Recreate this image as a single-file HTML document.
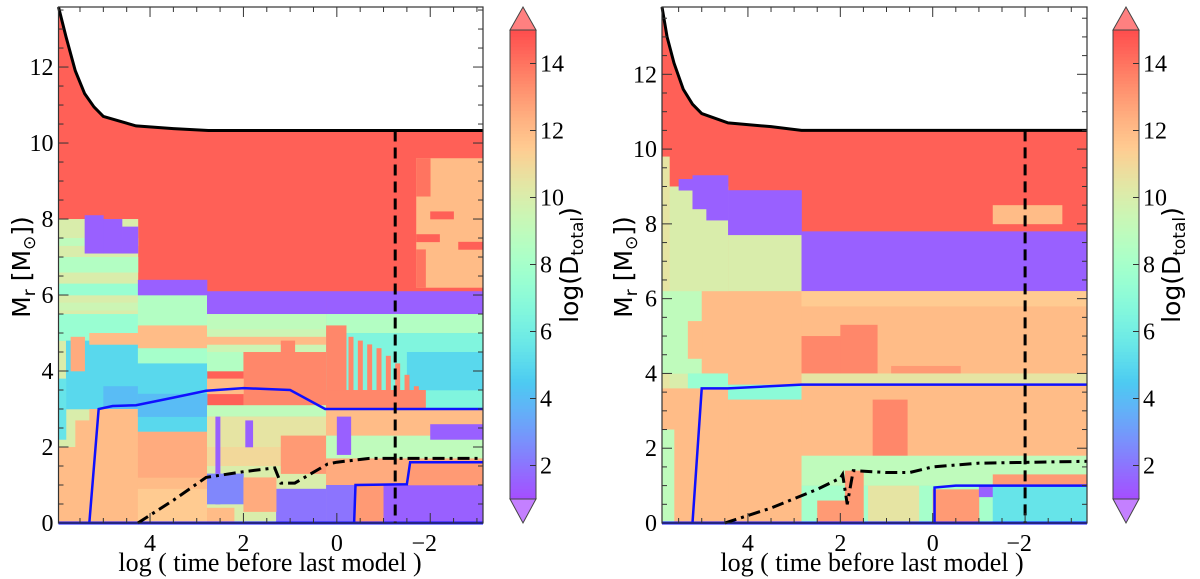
<!DOCTYPE html>
<html><head><meta charset="utf-8"><style>
html,body{margin:0;padding:0;background:#fff;width:1200px;height:579px;overflow:hidden}
svg{display:block}
.tk{font-family:"Liberation Serif",serif;font-size:24px;fill:#000}
.lab{font-family:"DejaVu Sans","Liberation Sans",sans-serif;font-size:25px;fill:#000}
.xl{font-family:"Liberation Serif",serif;font-size:26px;fill:#000}
</style></head><body>
<svg id="fig" width="1200" height="579" viewBox="0 0 1200 579" xmlns="http://www.w3.org/2000/svg">
<defs>
<clipPath id="clipL"><path id="clipLp"/></clipPath>
<clipPath id="clipR"><path id="clipRp"/></clipPath>
</defs>
</svg>
<script>
// ---- data: left panel ----
const envL = [[5.96,13.58],[5.8,12.8],[5.6,11.9],[5.4,11.3],[5.2,10.95],[5.0,10.7],[4.3,10.45],[3.5,10.38],[2.75,10.33],[-3.13,10.33]];
const blueL1 = [[5.3,0],[5.1,3.0],[4.8,3.08],[4.3,3.1],[3.5,3.3],[2.8,3.48],[2.0,3.55],[1.0,3.5],[0.25,3.0],[-3.13,3.0]];
const blueL2 = [[-0.37,0],[-0.4,1.0],[-1.5,1.02],[-1.57,1.6],[-3.13,1.6]];
const dashDotL = [[4.26,0],[3.5,0.6],[2.8,1.2],[2.0,1.35],[1.33,1.45],[1.2,1.05],[0.9,1.05],[0.2,1.55],[0.0,1.6],[-0.7,1.7],[-3.13,1.7]];
const vlineL = -1.25;
const cellsL = [
[5.96,-3.13,0,13.6,14.5],
[5.96,4.26,0,8,10],[5.96,4.26,6.6,7.0,8.5],[5.96,4.26,6.0,6.3,7.5],[5.96,4.26,5.6,5.8,9.5],[5.96,4.26,7.3,7.5,9],
[5.4,5.0,7.1,8.1,1.5],[5.0,4.6,7.1,8.0,1.5],[4.6,4.26,7.1,7.8,1.5],
[5.96,4.26,4.8,5.5,7.5],[5.8,4.26,3.0,4.8,5],[5.96,5.8,2.2,3.8,5.5],[5.7,5.4,4.0,4.9,12.5],[5.3,4.26,4.7,5.0,12],[5.0,4.26,3.0,3.6,4],
[5.96,4.26,0,2.0,12],[5.6,4.26,0,2.7,12],[5.3,4.26,0,3.0,12],
[4.26,2.78,5.0,6.0,8.5],[4.26,2.78,6.0,6.4,1.5],[4.26,2.78,4.6,5.2,12],[4.26,2.78,4.2,4.6,8],[4.26,2.78,2.4,4.2,5],[4.26,2.78,2.8,3.4,4],[4.26,2.78,0,2.4,12],[4.26,2.78,1.2,2.4,12.5],[4.26,2.78,0,0.9,11.5],
[2.78,0.23,5.5,6.1,1.5],[2.78,0.23,5.1,5.5,9],[2.78,0.23,4.5,5.1,9.5],[2.78,0.23,4.7,4.9,12],[2.78,0.23,4.0,4.5,8.5],
[2.0,0.23,3.1,4.5,13.5],[1.2,0.9,4.5,4.8,13.5],[2.78,2.0,3.4,3.8,12],
[2.78,0.23,2.8,3.1,9],[2.78,0.23,2.0,2.8,10.5],[2.78,0.23,1.5,2.0,11],[2.78,0.23,0,1.5,10],
[2.6,2.5,0.5,2.8,1.5],[1.96,1.8,2.0,2.7,1.5],[2.78,2.0,0.5,1.3,2.5],[1.3,0.23,0,0.9,2],[2.0,1.3,0.3,1.2,12.5],[1.2,0.23,1.3,2.3,13],[2.78,2.2,0,0.4,12],
[0.23,-3.13,5.5,6.1,1.5],[0.23,-3.13,5.0,5.5,8.5],[0.23,-3.13,3.0,5.0,6.5],[-1.5,-3.13,3.5,4.5,5],
[0.23,-0.2,3.0,5.2,13.5],[-0.25,-0.35,3.0,4.9,13.5],[-0.45,-0.55,3.0,4.8,13.5],[-0.65,-0.75,3.0,4.7,13.5],[-0.85,-0.95,3.0,4.6,13.5],[-1.05,-1.15,3.0,4.4,13.5],[-1.25,-1.35,3.0,4.2,13.5],[-1.45,-1.55,3.0,3.9,13.5],[-1.65,-1.75,3.0,3.6,13.5],[0.23,-1.9,3.0,3.5,13.5],
[0.23,-3.13,2.3,3.0,12],[0.23,-3.13,1.7,2.3,9],[0.0,-0.3,1.8,2.8,1.5],[-2.0,-3.13,2.2,2.6,1.5],[0.23,-3.13,1.0,1.7,12.5],
[0.23,-0.37,0,1.0,2],[-0.4,-1.0,0,1.0,13],[-1.0,-3.13,0,1.0,1.5],[-1.55,-3.13,1.0,1.6,13],
[-1.7,-3.13,6.2,9.6,12],[-1.7,-2.0,8.6,9.6,14],[-2.0,-2.5,8.0,8.2,14.5],[-1.7,-2.2,7.4,7.6,14.5],[-2.6,-3.13,7.2,7.4,14.5],[-1.7,-1.9,6.2,7.2,14]
];
// ---- data: right panel ----
const envR = [[5.86,13.8],[5.75,13.0],[5.6,12.3],[5.4,11.6],[5.2,11.2],[5.0,10.95],[4.43,10.7],[3.5,10.6],[2.84,10.5],[-3.34,10.5]];
const blueR1 = [[5.2,0],[5.0,3.6],[4.43,3.6],[2.84,3.7],[-3.34,3.7]];
const blueR2 = [[-0.04,0],[-0.04,0.95],[-0.5,1.0],[-3.34,1.0]];
const dashDotR = [[4.5,0],[3.5,0.4],[2.5,0.9],[2.0,1.2],[1.95,1.3],[1.85,0.5],[1.72,1.4],[1.0,1.35],[0.5,1.35],[0.0,1.5],[-1.0,1.6],[-3.34,1.65]];
const vlineR = -2.0;
const cellsR = [
[5.86,-3.34,0,13.8,14.5],
[5.86,4.43,0,9.0,10],[5.86,5.7,0,9.8,10.5],[5.5,5.2,8.9,9.2,1.5],[5.2,4.9,8.4,9.3,1.5],[4.9,4.43,8.1,9.3,1.5],
[5.86,4.43,4.0,6.2,9],[5.0,4.43,4.0,6.2,12],[5.3,5.0,4.4,5.4,12],[5.3,4.43,3.6,4.0,7.5],[5.86,4.43,0,3.6,12],[5.86,5.6,0,2.5,9],
[4.43,2.84,7.7,8.9,1.5],[4.43,2.84,6.2,7.7,10],[4.43,2.84,3.7,6.2,12],[4.43,2.84,3.3,3.7,7],[4.43,2.84,0,3.3,12],
[2.84,-3.34,6.2,7.8,1.5],[2.84,-3.34,4.0,6.2,12],[2.84,-3.34,5.8,6.2,11.5],
[2.84,2.0,4.0,5.0,13.5],[2.0,1.2,4.0,5.3,13.5],[0.9,-0.6,4.0,4.2,13],
[2.84,-3.34,3.7,4.0,10.5],[2.84,-3.34,1.8,3.7,12],[1.3,0.55,0.8,3.3,13.5],
[2.84,-3.34,1.0,1.8,9],[2.84,-3.34,0,1.0,8],[2.5,1.8,0,0.6,13],[1.9,1.5,0,1.4,13],[1.4,0.3,0,1.0,10.5],
[0.0,-1.0,0,0.9,13],[-1.0,-1.3,0.7,1.0,1.5],[-1.3,-3.34,0,1.0,5.5],[-1.3,-3.34,1.0,1.3,13],[-1.3,-2.8,8.0,8.5,12]
];
// colorbar
const cbTicks = [2,4,6,8,10,12,14];
const xTicks = [4,2,0,-2];
const yTicks = [0,2,4,6,8,10,12];

// ---- rendering ----
const NS='http://www.w3.org/2000/svg';
const svg=document.getElementById('fig');
function mk(tag,attrs,parent){const e=document.createElementNS(NS,tag);for(const k in attrs)e.setAttribute(k,attrs[k]);(parent||svg).appendChild(e);return e;}
function cmap(v){
  let t=(v-1)/14;t=Math.max(0,Math.min(1,t));
  let r=Math.min(1,Math.abs(2*t-0.5)),g=Math.sin(Math.PI*t),b=Math.cos(Math.PI*t/2);
  const a=0.7;
  const f=c=>Math.round(255*(1-a)+255*a*c);
  return `rgb(${f(r)},${f(g)},${f(b)})`;
}
const panels=[
 {id:'left',x0:58.5,x1:483,y0:7,y1:523,xmax:5.96,xmin:-3.13,ymax:13.58,env:envL,cells:cellsL,b1:blueL1,b2:blueL2,dd:dashDotL,vl:vlineL,cbx:510,clip:'clipL',ylabX:22,cbLabX:578,xlabX:270},
 {id:'right',x0:662,x1:1087,y0:7,y1:523,xmax:5.86,xmin:-3.34,ymax:13.8,env:envR,cells:cellsR,b1:blueR1,b2:blueR2,dd:dashDotR,vl:vlineR,cbx:1113,clip:'clipR',ylabX:624,cbLabX:1180,xlabX:872}
];
panels.forEach(P=>{
  const sx=x=>P.x0+(P.xmax-x)/(P.xmax-P.xmin)*(P.x1-P.x0);
  const sy=y=>P.y1-y/P.ymax*(P.y1-P.y0);
  const g=mk('g',{});
  
  
  let d='M'+sx(P.env[0][0])+','+sy(0);
  P.env.forEach(p=>{d+=' L'+sx(p[0])+','+sy(p[1]);});
  d+=' L'+sx(P.env[P.env.length-1][0])+','+sy(0)+' Z';
  document.getElementById(P.clip+'p').setAttribute('d',d);
  const hm=mk('g',{'clip-path':`url(#${P.clip})`},g);
  
  
  P.cells.forEach(c=>{
    const xa=Math.min(sx(c[0]),sx(c[1])),xb=Math.max(sx(c[0]),sx(c[1]));
    const r=mk('rect',{x:xa,y:sy(c[3]),width:xb-xa+0.3,height:sy(c[2])-sy(c[3])+0.3,fill:cmap(c[4])},hm);
    
    
  });
  const line=(pts,attrs,name)=>{
    const e=mk('polyline',Object.assign({points:pts.map(p=>sx(p[0])+','+sy(p[1])).join(' '),fill:'none'},attrs),g);
    
    
  };
  line([[P.xmax,0],[P.xmin,0]],{stroke:'#1010ff','stroke-width':3},'blue-base-line');
  line(P.b1,{stroke:'#1010ff','stroke-width':2.5},'blue-boundary-upper');
  line(P.b2,{stroke:'#1010ff','stroke-width':2.5},'blue-boundary-lower');
  line(P.dd,{stroke:'#000','stroke-width':3,'stroke-dasharray':'12,5,3,5'},'dash-dot-line');
  line(P.env,{stroke:'#000','stroke-width':3},'total-mass-line');
  const topY=P.env[P.env.length-1][1];
  line([[P.vl,topY],[P.vl,0]],{stroke:'#000','stroke-width':3,'stroke-dasharray':'11,6'},'vertical-dashed-line');
  const fr=mk('rect',{x:P.x0,y:P.y0,width:P.x1-P.x0,height:P.y1-P.y0,fill:'none',stroke:'#333','stroke-width':1.2},g);
  
  
  for(let v=-4;v<=6;v+=0.5){
    if(v>P.xmax||v<P.xmin)continue;
    const X=sx(v),len=(v%2===0)?10:5;
    mk('line',{x1:X,x2:X,y1:P.y1,y2:P.y1-len,stroke:'#333','stroke-width':1},g);
    mk('line',{x1:X,x2:X,y1:P.y0,y2:P.y0+len,stroke:'#333','stroke-width':1},g);
  }
  for(let v=0;v<=P.ymax;v+=0.5){
    const Y=sy(v),len=(v%2===0)?10:5;
    mk('line',{x1:P.x0,x2:P.x0+len,y1:Y,y2:Y,stroke:'#333','stroke-width':1},g);
    mk('line',{x1:P.x1,x2:P.x1-len,y1:Y,y2:Y,stroke:'#333','stroke-width':1},g);
  }
  xTicks.forEach(v=>{
    const t=mk('text',{x:sx(v)-(v<0?6:0),y:P.y1+28,'text-anchor':'middle',class:'tk'},g);
    t.textContent=v<0?'\u2212'+(-v):String(v);
    
    
  });
  yTicks.forEach(v=>{
    const t=mk('text',{x:P.x0-5,y:sy(v)+8,'text-anchor':'end',class:'tk'},g);
    t.textContent=String(v);
    
    
  });
  const xl=mk('text',{x:P.xlabX,y:571,'text-anchor':'middle',class:'xl'},g);
  xl.textContent='log ( time before last model )';
  
  
  const yl=mk('text',{x:0,y:0,'text-anchor':'middle',class:'lab',transform:`translate(${P.ylabX+8},267) rotate(-90)`},g);
  yl.innerHTML='M<tspan dy="5" font-size="17">r</tspan><tspan dy="-5"> [M</tspan><tspan dy="5" font-size="17">\u2299</tspan><tspan dy="-5">])</tspan>';
  
  
  const cb=mk('g',{},g);
  
  
  const cy=v=>499-(v-1)/14*(499-30);
  const w=26;
  for(let i=0;i<140;i++){
    const v=1+i*0.1;
    mk('rect',{x:P.cbx,y:cy(v+0.1),width:w,height:cy(v)-cy(v+0.1)+0.4,fill:cmap(v+0.05)},cb);
  }
  mk('path',{d:`M${P.cbx},30 L${P.cbx+w/2},7 L${P.cbx+w},30 Z`,fill:'rgb(255,128,128)',stroke:'#444','stroke-width':1},cb);
  mk('path',{d:`M${P.cbx},499 L${P.cbx+w/2},523 L${P.cbx+w},499 Z`,fill:'rgb(196,128,255)',stroke:'#444','stroke-width':1},cb);
  mk('rect',{x:P.cbx,y:30,width:w,height:469,fill:'none',stroke:'#444','stroke-width':1},cb);
  cbTicks.forEach(v=>{
    mk('line',{x1:P.cbx+w,x2:P.cbx+w-6,y1:cy(v),y2:cy(v),stroke:'#333'},cb);
    const t=mk('text',{x:P.cbx+w+4,y:cy(v)+8,class:'tk'},cb);
    t.textContent=String(v);
    
    
  });
  const cl=mk('text',{x:0,y:0,'text-anchor':'middle',class:'lab',transform:`translate(${P.cbLabX},265) rotate(-90)`},cb);
  cl.innerHTML='log(D<tspan dy="5" font-size="17">total</tspan><tspan dy="-5">)</tspan>';
  
  
});
</script>
</body></html>
